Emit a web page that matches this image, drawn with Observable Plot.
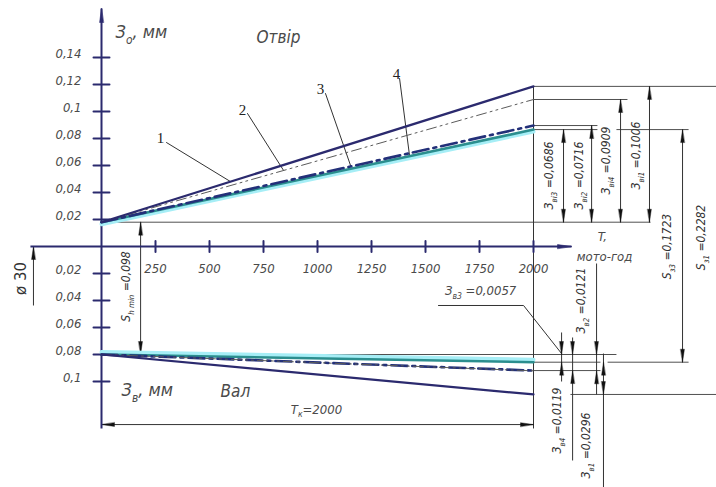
<!DOCTYPE html>
<html><head><meta charset="utf-8">
<script src="https://cdn.jsdelivr.net/npm/d3@7"></script>
<script src="https://cdn.jsdelivr.net/npm/@observablehq/plot@0.6"></script>
<style>
html,body{margin:0;padding:0;background:#fff;}
#chart{width:716px;height:487px;overflow:hidden;}
</style>
</head><body><div id="chart"></div>
<script>
// ---------------- data ----------------
const hours = [0, 2000];                       // T, мото-год
const curveIds = ["1", "2", "3", "4"];
const holeStart = 0.018;                        // hole deviation at T = 0, mm
const holeWear = [0.1006, 0.0909, 0.0686, 0.0716];   // З_ві for curves 1..4
const shaftStart = 0.080;                       // shaft deviation at T = 0, mm (drawn downwards)
const shaftWear = [0.0296, 0.0121, 0.0057, 0.0119];  // З_в for curves 1..4
const xTicks = [250, 500, 750, 1000, 1250, 1500, 1750, 2000];
const yTicksHole = [0.02, 0.04, 0.06, 0.08, 0.1, 0.12, 0.14];
const yTicksShaft = [0.02, 0.04, 0.06, 0.08, 0.1];

// ---------------- drawing annotations (data units: T, mm) ----------------
const axisY = [{T: 0, v1: -0.1348, v2: 0.1763}];
const axisX = [{T1: -329, T2: 2176, v: 0}];
const holeDimT = [2537, 2403, 2139, 2269];
const holeDimText = ["З{ві1} =0,1006", "З{ві4} =0,0909", "З{ві3} =0,0686", "З{ві2} =0,0716"];
const holeDimLabelT = [2477, 2338, 2074, 2213];
const holeDimLabelV = [0.0674, 0.0637, 0.0526, 0.0526];
const extensions = [
  {T1: 0, T2: 2542, v: holeStart},
  {T1: 2000, T2: 2850, v: holeStart + holeWear[0]},
  {T1: 2000, T2: 2435, v: holeStart + holeWear[1]},
  {T1: 2000, T2: 2296, v: holeStart + holeWear[3]},
  {T1: 2000, T2: 2296, v: holeStart + holeWear[2]},
  {T1: 2384, T2: 2718, v: holeStart + holeWear[2]},
  {T1: 0, T2: 2384, v: -shaftStart},
  {T1: 2000, T2: 2310, v: -(shaftStart + shaftWear[2])},
  {T1: 2343, T2: 2718, v: -(shaftStart + shaftWear[2])},
  {T1: 2000, T2: 2310, v: -(shaftStart + shaftWear[3])},
  {T1: 2171, T2: 2850, v: -(shaftStart + shaftWear[0])}
];
const otherDims = [
  {T: 181, v1: holeStart, v2: -shaftStart},                               // S_h min
  {T: 2690, v1: holeStart + holeWear[2], v2: -(shaftStart + shaftWear[2])}, // S_з3
  {T: 2000, v1: holeStart + holeWear[0], v2: -0.1348},                      // T = 2000 line
  {T: -315, v1: 0, v2: -0.0437},                                          // ø30
  {T: 2130, v1: -0.0637, v2: -0.1000},
  {T: 2181, v1: -0.0674, v2: -0.1585},
  {T: 2292, v1: -0.0126, v2: -0.1096},
  {T: 2324, v1: -0.0793, v2: -0.1785}
];
const tkDim = [{T1: 0, T2: 2000, v: -0.1319}];
const arrowTips = [
  {T: 181, v: holeStart, r: 0}, {T: 181, v: -shaftStart, r: 180},
  {T: 2690, v: holeStart + holeWear[2], r: 0}, {T: 2690, v: -(shaftStart + shaftWear[2]), r: 180},
  {T: -315, v: 0, r: 0},
  {T: 0, v: -0.1319, r: -90}, {T: 2000, v: -0.1319, r: 90},
  {T: 2130, v: -shaftStart, r: 180}, {T: 2130, v: -(shaftStart + shaftWear[2]), r: 0},
  {T: 2181, v: -shaftStart, r: 180}, {T: 2181, v: -(shaftStart + shaftWear[3]), r: 0},
  {T: 2292, v: -shaftStart, r: 180}, {T: 2292, v: -(shaftStart + shaftWear[1]), r: 0},
  {T: 2324, v: -(shaftStart + shaftWear[2]), r: 0}, {T: 2324, v: -(shaftStart + shaftWear[0]), r: 180}
];
const axisTips = [{T: 0, v: 0.1763, r: 0}, {T: 2176, v: 0, r: 90}];
const leaders = [
  {id: "1", T: 301, v: 0.077}, {id: "1", T: 597, v: 0.0481},
  {id: "2", T: 676, v: 0.0985}, {id: "2", T: 843, v: 0.0563},
  {id: "3", T: 1037, v: 0.1133}, {id: "3", T: 1153, v: 0.060},
  {id: "4", T: 1380, v: 0.1244}, {id: "4", T: 1426, v: 0.0674},
  {id: "z", T: 1560, v: -0.0437}, {id: "z", T: 1954, v: -0.0437}, {id: "z", T: 2130, v: -0.0793}
];
const curveLabels = [
  {T: 273, v: 0.080, text: "1"}, {T: 653, v: 0.1007, text: "2"},
  {T: 1014, v: 0.1163, text: "3"}, {T: 1366, v: 0.128, text: "4"}
];
const bigTitles = [
  {T: 65, v: 0.1585, text: "З{о}, мм"},
  {T: 93, v: -0.1067, text: "З{в}, мм"}
];
const partTitles = [
  {T: 819, v: 0.1548, text: "Отвір"},
  {T: 620, v: -0.1074, text: "Вал"}
];
const smallTexts = [
  {T: 995, v: -0.1207, text: "T{к}=2000"},
  {T: 2319, v: 0.0074, text: "T,"},
  {T: 2329, v: -0.0074, text: "мото-год"},
  {T: 1755, v: -0.0326, text: "З{в3} =0,0057"}
];
const rotatedLabels = [
  ...holeDimText.map((text, i) => ({T: holeDimLabelT[i], v: holeDimLabelV[i], text})),
  {T: 2620, v: 0.0, text: "S{з3} =0,1723"},
  {T: 2778, v: 0.0067, text: "S{з1} =0,2282"},
  {T: 116, v: -0.0296, text: "S{h min} =0,098"},
  {T: 2111, v: -0.1289, text: "З{в4} =0,0119"},
  {T: 2245, v: -0.1474, text: "З{в1} =0,0296"},
  {T: 2222, v: -0.0400, text: "З{в2} =0,0121"}
];
const diameterLabel = [{T: -370, v: -0.0237, text: "ø 30"}];

// ---------------- derived tables ----------------
const holeLines = curveIds.flatMap((id, i) => hours.map((T, j) => ({id, T, v: holeStart + (j ? holeWear[i] : 0)})));
const shaftLines = curveIds.flatMap((id, i) => hours.map((T, j) => ({id, T, v: -(shaftStart + (j ? shaftWear[i] : 0))})));
const holeDims = curveIds.map((id, i) => ({T: holeDimT[i], v1: holeStart, v2: holeStart + holeWear[i]}));
const holeTips = curveIds.flatMap((id, i) => [
  {T: holeDimT[i], v: holeStart + holeWear[i], r: 0},
  {T: holeDimT[i], v: holeStart, r: 180}
]);
const fmt = d => String(d).replace(".", ",");

// ---------------- styles ----------------
const NAVY = "#2b2a6e";
const TEXT = "#4a4a4a";
const FONT = "'Liberation Sans Narrow', 'DejaVu Sans Condensed', 'Liberation Sans', sans-serif";
const curveStyle = {
  "1": {stroke: NAVY, strokeWidth: 2.2},
  "2": {stroke: "#5a5a5a", strokeWidth: 1, strokeDasharray: "10,4,2,4,2,4"},
  "3": {stroke: "#2b8e8e", strokeWidth: 2.6},
  "4": {stroke: "#233079", strokeWidth: 2.6, strokeDasharray: "16,5,3,5"}
};
const head = {draw(ctx, l) { ctx.moveTo(0, -l); ctx.lineTo(-1.9, 0); ctx.lineTo(1.9, 0); ctx.closePath(); }};
const bar = {draw(ctx, l) { ctx.moveTo(0, 0); ctx.lineTo(0, -l); }};

function curveMarks(data, glowDy) {
  const f = id => data.filter(d => d.id === id);
  return [
    Plot.line(f("3"), {x: "T", y: "v", stroke: "#a6eef6", strokeWidth: 4, dy: glowDy}),
    Plot.line(f("3"), {x: "T", y: "v", ...curveStyle["3"]}),
    Plot.line(f("4"), {x: "T", y: "v", ...curveStyle["4"]}),
    Plot.line(f("2"), {x: "T", y: "v", ...curveStyle["2"]}),
    Plot.line(f("1"), {x: "T", y: "v", ...curveStyle["1"]})
  ];
}

const chart = Plot.plot({
  width: 716, height: 487,
  marginLeft: 101, marginRight: 183, marginTop: 57, marginBottom: 241,
  x: {domain: [0, 2000], axis: null},
  y: {domain: [0, 0.14], axis: null},
  style: {background: "#fff", fontFamily: FONT, overflow: "hidden"},
  marks: [
    // extension and dimension lines
    Plot.link(extensions, {x1: "T1", x2: "T2", y1: "v", y2: "v", stroke: "#505050", strokeWidth: 1}),
    Plot.link([...holeDims, ...otherDims], {x1: "T", x2: "T", y1: "v1", y2: "v2", stroke: "#333", strokeWidth: 1}),
    Plot.link(tkDim, {x1: "T1", x2: "T2", y1: "v", y2: "v", stroke: "#333", strokeWidth: 1}),
    Plot.line(leaders, {x: "T", y: "v", z: "id", stroke: "#333", strokeWidth: 1}),
    Plot.vector([...holeTips, ...arrowTips], {x: "T", y: "v", rotate: "r", length: 13, anchor: "end", shape: head, fill: "#111", stroke: "#111", strokeWidth: 0.4}),
    // axes
    Plot.link(axisY, {x1: "T", x2: "T", y1: "v1", y2: "v2", stroke: NAVY, strokeWidth: 2}),
    Plot.link(axisX, {x1: "T1", x2: "T2", y1: "v", y2: "v", stroke: NAVY, strokeWidth: 2}),
    Plot.vector(axisTips, {x: "T", y: "v", rotate: "r", length: 14, anchor: "end", shape: head, fill: NAVY, stroke: NAVY, strokeWidth: 0.6}),
    Plot.vector(yTicksHole, {x: () => 0, y: d => d, rotate: 90, length: 16, anchor: "middle", shape: bar, stroke: NAVY, strokeWidth: 2}),
    Plot.vector(yTicksShaft, {x: () => 0, y: d => -d, rotate: 90, length: 16, anchor: "middle", shape: bar, stroke: NAVY, strokeWidth: 2}),
    Plot.vector(xTicks, {x: d => d, y: () => 0, rotate: 0, length: 11, anchor: "middle", shape: bar, stroke: NAVY, strokeWidth: 2}),
    // tick labels
    Plot.text(yTicksHole, {x: () => 0, y: d => d, text: fmt, textAnchor: "end", dx: -20, dy: -4, fontSize: 13, fontStyle: "italic", fill: TEXT}),
    Plot.text(yTicksShaft, {x: () => 0, y: d => -d, text: fmt, textAnchor: "end", dx: -20, dy: -4, fontSize: 13, fontStyle: "italic", fill: TEXT}),
    Plot.text(xTicks, {x: d => d, y: () => 0, text: d => String(d), dy: 22, fontSize: 13, fontStyle: "italic", fill: TEXT}),
    // curves
    ...curveMarks(holeLines, 2),
    ...curveMarks(shaftLines, -2.5),
    // texts
    Plot.text(curveLabels, {x: "T", y: "v", text: "text", fontSize: 15, fontFamily: "'Liberation Serif', serif", fill: "#222"}),
    Plot.text(bigTitles, {x: "T", y: "v", text: "text", textAnchor: "start", fontSize: 18, fontStyle: "italic", fill: TEXT}),
    Plot.text(partTitles, {x: "T", y: "v", text: "text", fontSize: 17, fontStyle: "italic", fill: TEXT}),
    Plot.text(smallTexts, {x: "T", y: "v", text: "text", fontSize: 13, fontStyle: "italic", fill: TEXT}),
    Plot.text(rotatedLabels, {x: "T", y: "v", text: "text", rotate: -90, fontSize: 12, fontStyle: "italic", fill: "#333"}),
    Plot.text(diameterLabel, {x: "T", y: "v", text: "text", rotate: -90, fontSize: 15, fontFamily: "'DejaVu Sans', sans-serif", fill: "#333"})
  ]
});
document.getElementById("chart").append(chart);

// turn {…} parts of labels into real subscript tspans
chart.querySelectorAll("text").forEach(t => {
  const s = t.textContent;
  if (!s.includes("{")) return;
  const fs = parseFloat(getComputedStyle(t).fontSize) || 12;
  const shift = fs * 0.3;
  t.textContent = "";
  let sub = false;
  for (const part of s.split(/(\{[^}]*\})/)) {
    if (!part) continue;
    const ts = document.createElementNS("http://www.w3.org/2000/svg", "tspan");
    const isSub = part.startsWith("{");
    ts.textContent = isSub ? part.slice(1, -1) : part;
    if (isSub) { ts.setAttribute("font-size", (fs * 0.66).toFixed(1)); if (!sub) ts.setAttribute("dy", shift.toFixed(1)); }
    else if (sub) ts.setAttribute("dy", (-shift).toFixed(1));
    sub = isSub;
    t.appendChild(ts);
  }
});
</script>
</body></html>
